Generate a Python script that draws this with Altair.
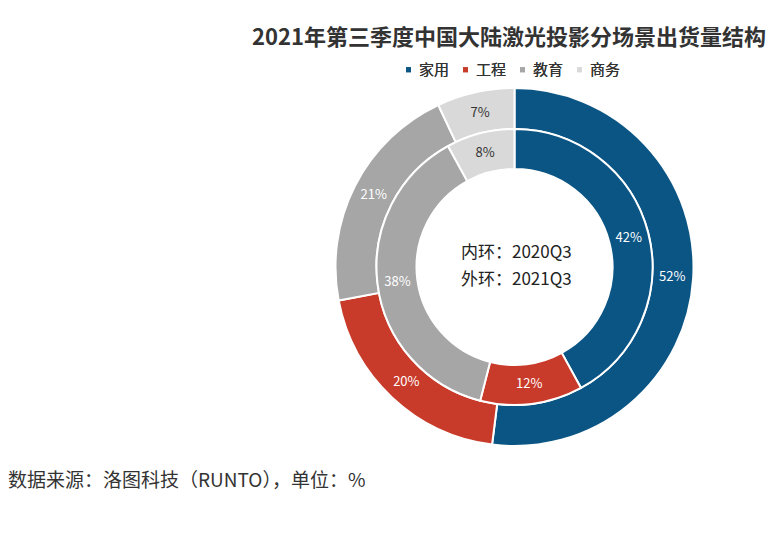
import altair as alt
import pandas as pd

categories = ["家用", "工程", "教育", "商务"]
colors = ["#0b5585", "#c83a29", "#a6a6a6", "#d9d9d9"]
inner_2020q3 = [42, 12, 38, 8]
outer_2021q3 = [52, 20, 21, 7]
label_colors = ["#ffffff", "#ffffff", "#ffffff", "#333333"]

title_text = ["2021年第三季度中国大陆激光投影分场景出货量结构"]
center_lines = ["内环：2020Q3", "外环：2021Q3"]
source_text = ["数据来源：洛图科技（RUNTO），单位：%"]

rows = []
for ring_name, vals in (("inner", inner_2020q3), ("outer", outer_2021q3)):
    for i, (c, v) in enumerate(zip(categories, vals)):
        rows.append({"ring": ring_name, "category": c, "value": v, "order": i,
                     "label": f"{v}%", "lc": label_colors[i]})
df = pd.DataFrame(rows)

FONT = "Noto Sans CJK SC"
CX, CY = 506.5, 259

color = alt.Color(
    "category:N",
    scale=alt.Scale(domain=categories, range=colors),
    legend=alt.Legend(
        title=None, orient="none", legendX=393, legendY=54,
        direction="horizontal", symbolType="square", symbolSize=25,
        symbolStrokeWidth=0, labelFontSize=15, labelFont=FONT,
        labelColor="#333333", columnPadding=8, labelOffset=3, padding=0,
    ),
)


def ring(name, r_in, r_out, r_lab):
    base = alt.Chart(df).transform_filter(alt.datum.ring == name)
    arc = base.mark_arc(innerRadius=r_in, outerRadius=r_out, stroke="white",
                        strokeWidth=2).encode(
        theta=alt.Theta("value:Q", stack=True),
        order=alt.Order("order:Q", sort="ascending"),
        color=color,
        x=alt.value(CX), y=alt.value(CY),
    )
    txt = base.mark_text(radius=r_lab, fontSize=13, font=FONT).encode(
        theta=alt.Theta("value:Q", stack=True),
        order=alt.Order("order:Q", sort="ascending"),
        text="label:N",
        color=alt.Color("lc:N", scale=None),
        x=alt.value(CX), y=alt.value(CY),
    )
    return arc, txt


outer_arc, outer_txt = ring("outer", 138, 179, 158)
inner_arc, inner_txt = ring("inner", 98, 138, 118)

title = alt.Chart(pd.DataFrame({"t": title_text})).mark_text(
    font=FONT, fontSize=22, fontWeight="bold", color="#333333", align="center", baseline="middle"
).encode(text="t:N", x=alt.value(501), y=alt.value(30))

center_layers = []
for i, line in enumerate(center_lines):
    center_layers.append(
        alt.Chart(pd.DataFrame({"t": [line]})).mark_text(
            font=FONT, fontSize=17, color="#222222", align="left", baseline="middle"
        ).encode(text="t:N", x=alt.value(453), y=alt.value(245 + i * 27))
    )

source = alt.Chart(pd.DataFrame({"t": source_text})).mark_text(
    font=FONT, fontSize=19, color="#333333", align="left", baseline="middle"
).encode(text="t:N", x=alt.value(0), y=alt.value(473))

chart = alt.layer(outer_arc, inner_arc, outer_txt, inner_txt, title, *center_layers, source).properties(
    width=761, height=525, padding=0, autosize=alt.AutoSizeParams(type="none")
).configure_view(stroke=None).resolve_scale(color="independent")

chart.save("out.html", embed_options={"renderer": "svg", "actions": False})
